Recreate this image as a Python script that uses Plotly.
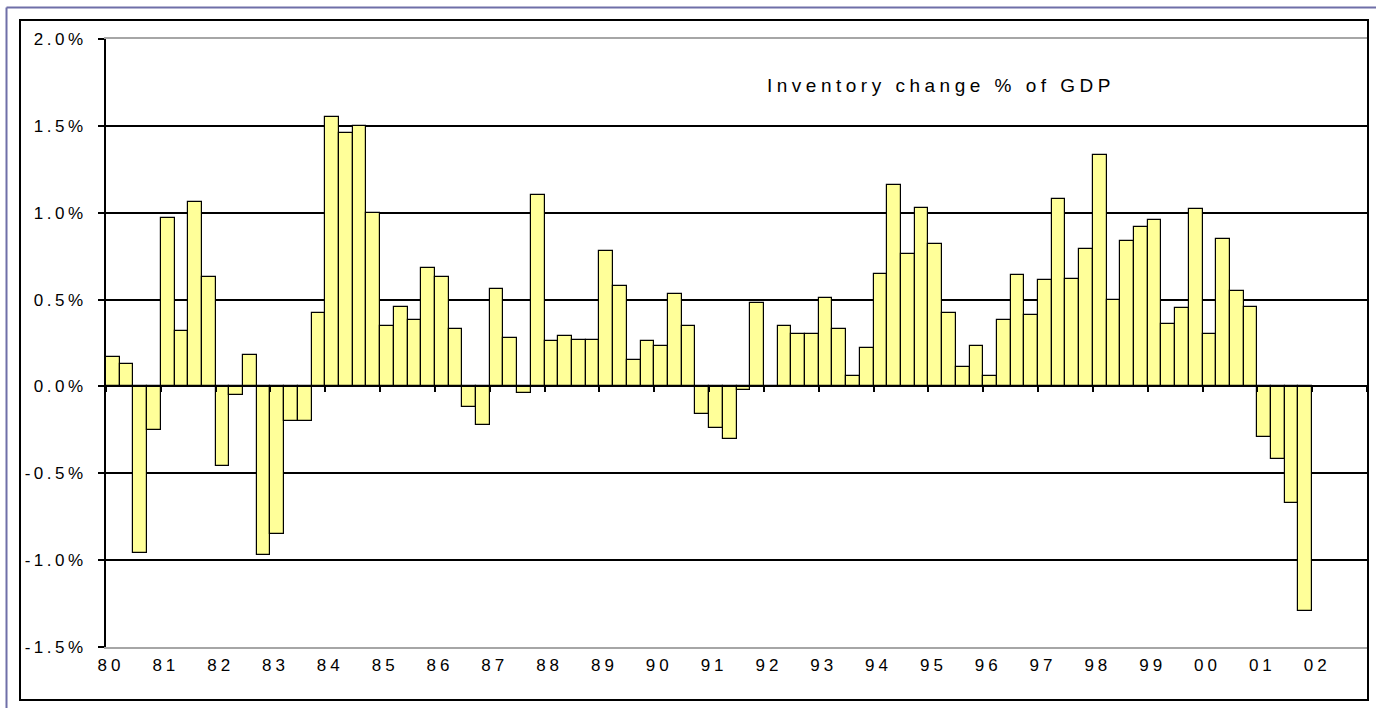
import numpy as np
import plotly.graph_objects as go

# ---- data (quarterly, 1980Q1 .. 2001Q4), inventory change as % of GDP ----
years = list(range(1980, 2002))
q_values = [
    [0.17, 0.13, -0.96, -0.25],   # 1980
    [0.97, 0.32, 1.06, 0.63],     # 1981
    [-0.46, -0.05, 0.18, -0.97],  # 1982
    [-0.85, -0.20, -0.20, 0.42],  # 1983
    [1.55, 1.46, 1.50, 1.00],     # 1984
    [0.35, 0.46, 0.38, 0.68],     # 1985
    [0.63, 0.33, -0.12, -0.22],   # 1986
    [0.56, 0.28, -0.035, 1.10],   # 1987
    [0.26, 0.29, 0.27, 0.27],     # 1988
    [0.78, 0.58, 0.15, 0.26],     # 1989
    [0.23, 0.53, 0.35, -0.16],    # 1990
    [-0.24, -0.30, -0.02, 0.48],  # 1991
    [0.0, 0.35, 0.30, 0.30],      # 1992
    [0.51, 0.33, 0.06, 0.22],     # 1993
    [0.65, 1.16, 0.76, 1.03],     # 1994
    [0.82, 0.42, 0.11, 0.23],     # 1995
    [0.06, 0.38, 0.64, 0.41],     # 1996
    [0.61, 1.08, 0.62, 0.79],     # 1997
    [1.33, 0.50, 0.84, 0.92],     # 1998
    [0.96, 0.36, 0.45, 1.02],     # 1999
    [0.30, 0.85, 0.55, 0.46],     # 2000
    [-0.29, -0.42, -0.67, -1.29], # 2001
]
year_labels = ["80", "81", "82", "83", "84", "85", "86", "87", "88", "89", "90",
               "91", "92", "93", "94", "95", "96", "97", "98", "99", "00", "01", "02"]
label_years = list(range(1980, 2003))
y_tickvals = [-1.5, -1.0, -0.5, 0.0, 0.5, 1.0, 1.5, 2.0]
y_ticktext = ["-1.5%", "-1.0%", "-0.5%", "0.0%", "0.5%", "1.0%", "1.5%", "2.0%"]
title_text = "Inventory change % of GDP"

# quarter centres in fractional years
xq, yq = [], []
for yr, vals in zip(years, q_values):
    for k, v in enumerate(vals):
        xq.append(yr + k / 4 + 0.125)
        yq.append(v)

FONT = "Liberation Sans, Arial, sans-serif"
TXT = "#000000"

def spaced(s, sp):
    return f'<span style="letter-spacing:{sp}px">{s}</span>'

fig = go.Figure()
fig.add_trace(go.Bar(
    x=xq, y=yq, width=0.25,
    marker=dict(color="#FFFF99", line=dict(color="#000000", width=1.2)),
    showlegend=False, hoverinfo="x+y",
))
# dummy traces so the overlay axes are drawn
fig.add_trace(go.Scatter(x=[1980], y=[None], xaxis="x2", yaxis="y",
                         showlegend=False, hoverinfo="skip"))
fig.add_trace(go.Scatter(x=[1980], y=[None], xaxis="x", yaxis="y2",
                         showlegend=False, hoverinfo="skip"))

L, R, T, B = 106, 9, 39, 61
W, H = 1376, 708
pw, ph = W - L - R, H - T - B

def px_x(p):
    return (p - L) / pw

def px_y(p):
    return (H - B - p) / ph

fig.update_layout(
    width=W, height=H,
    margin=dict(l=L, r=R, t=T, b=B, pad=0),
    paper_bgcolor="#ffffff", plot_bgcolor="#ffffff",
    bargap=0,
    font=dict(family=FONT, size=16, color=TXT),
    xaxis=dict(
        range=[1980, 2003], anchor="free", position=1.5 / 3.5,
        tickmode="array", tickvals=label_years + [2003],
        showticklabels=False, ticks="outside", ticklen=5, tickwidth=1.5,
        tickcolor="#000", showline=True, linecolor="#000", linewidth=2,
        showgrid=False, zeroline=False, fixedrange=True,
    ),
    xaxis2=dict(
        range=[1980, 2003], overlaying="x", anchor="y", side="bottom",
        tickmode="array", tickvals=label_years,
        ticktext=[spaced(t, 4) for t in year_labels],
        ticks="", showline=True, linecolor="#a6a6a6", linewidth=2, mirror=True,
        showgrid=False, zeroline=False, ticklabelshift=5, ticklabelstandoff=2,
        tickfont=dict(family=FONT, size=17, color=TXT),
    ),
    yaxis=dict(
        range=[-1.5, 2.0], tickmode="array", tickvals=y_tickvals,
        ticktext=[spaced(t, 3.5) for t in y_ticktext],
        ticks="outside", ticklen=6, tickwidth=1.5, tickcolor="#000",
        showline=True, linecolor="#000", linewidth=2,
        showgrid=False, zeroline=False, ticklabelstandoff=8,
        tickfont=dict(family=FONT, size=17, color=TXT),
    ),
    yaxis2=dict(
        range=[-1.5, 2.0], overlaying="y", tickmode="array",
        tickvals=[-1.0, -0.5, 0.5, 1.0, 1.5], showticklabels=False,
        showgrid=True, gridcolor="#000", gridwidth=1.5, zeroline=False,
        showline=False, ticks="",
    ),
    annotations=[dict(
        text=spaced(title_text, 4.5), x=px_x(941), y=px_y(86),
        xref="paper", yref="paper", xanchor="center", yanchor="middle",
        showarrow=False, font=dict(family=FONT, size=19, color=TXT),
    )],
    shapes=[
        dict(type="rect", xref="paper", yref="paper",
             x0=px_x(20), x1=px_x(1368), y0=px_y(700), y1=px_y(20),
             line=dict(color="#000", width=2), layer="below"),
        dict(type="line", xref="paper", yref="paper",
             x0=px_x(6.5), x1=px_x(6.5), y0=px_y(712), y1=px_y(7.5),
             line=dict(color="#6f6fa8", width=2)),
        dict(type="line", xref="paper", yref="paper",
             x0=px_x(6.5), x1=px_x(1380), y0=px_y(7.5), y1=px_y(7.5),
             line=dict(color="#6f6fa8", width=2)),
    ],
)

fig.write_html(
    "out.html",
    config={"displayModeBar": False},
    post_script="document.body.style.margin='0';document.body.style.overflow='hidden';",
)
